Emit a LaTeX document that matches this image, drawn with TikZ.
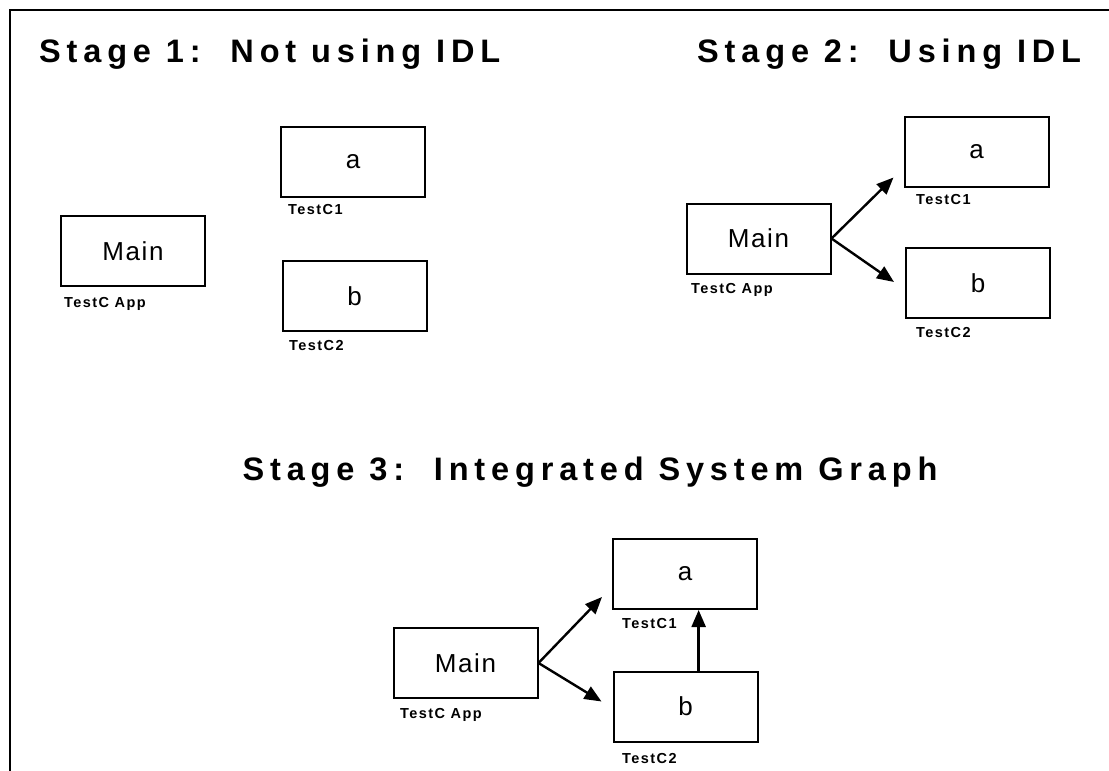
\documentclass[tikz,border=0pt]{standalone}
\usepackage{fontspec}
\setmainfont{Liberation Sans}
\newfontfamily\titlefont[LetterSpace=18]{Liberation Sans Bold}
\newfontfamily\boxfont[LetterSpace=6]{Liberation Sans}
\newfontfamily\tagfont[LetterSpace=10]{Liberation Sans Bold}
\usetikzlibrary{arrows.meta,calc}

\tikzset{
  heading/.style={inner sep=0pt, font=\titlefont\fontsize{32.5}{38}\selectfont},
  module/.style={draw, line width=2pt, minimum width=144pt, minimum height=70pt,
                 inner sep=0pt, font=\boxfont\fontsize{26}{30}\selectfont},
  tag/.style={inner sep=0pt, anchor=west, font=\tagfont\fontsize{14.5}{16}\selectfont},
  link/.style={line width=2.4pt, -{Triangle[length=17pt,width=14pt]}},
  frame/.style={line width=2pt}
}

\begin{document}
\begin{tikzpicture}[x=1pt,y=-1pt]
\useasboundingbox (0,0) rectangle (1109,771);

% outer frame (top and left edges)
\draw[frame] (1109,10) -- (10,10) -- (10,771);

% headings
\node[heading, anchor=base west] (h1) at (39,62) {Stage 1:\ \ Not using IDL};
\node[heading, anchor=base west] (h2) at (697,62) {Stage 2:\ \ Using IDL};
\node[heading, anchor=base] (h3) at (590,480) {Stage 3:\ \ Integrated System Graph};

% Stage 1
\node[module] (m1) at (133,251) {Main};
\node[module] (a1) at (353,162) {a};
\node[module] (b1) at (354.5,296) {b};
\node[tag] (m1t) at (64,304) {TestC App};
\node[tag] (a1t) at (288,210) {TestC1};
\node[tag] (b1t) at (289,346) {TestC2};

% Stage 2
\node[module] (m2) at (758.5,238.5) {Main};
\node[module] (a2) at (976.5,151.5) {a};
\node[module] (b2) at (978,283) {b};
\node[tag] (m2t) at (691,290) {TestC App};
\node[tag] (a2t) at (916,200) {TestC1};
\node[tag] (b2t) at (916,333) {TestC2};
\draw[link] (m2.east) -- ([xshift=-10pt,yshift=10pt]a2.south west);
\draw[link] (m2.east) -- ([xshift=-11pt,yshift=-35pt]b2.north west);

% Stage 3
\node[module] (m3) at (465.5,663) {Main};
\node[module] (a3) at (685,574) {a};
\node[module] (b3) at (685.5,706.5) {b};
\node[tag] (m3t) at (400,715) {TestC App};
\node[tag] (a3t) at (622,624) {TestC1};
\node[tag] (b3t) at (622,759) {TestC2};
\draw[link] (m3.east) -- ([xshift=-10pt,yshift=13pt]a3.south west);
\draw[link] (m3.east) -- ([xshift=-11pt,yshift=-31pt]b3.north west);
\coordinate (b3top) at ($(b3.north west)!0.59!(b3.north east)$);
\draw[link] (b3top) -- (b3top |- a3.south);
\end{tikzpicture}
\end{document}
